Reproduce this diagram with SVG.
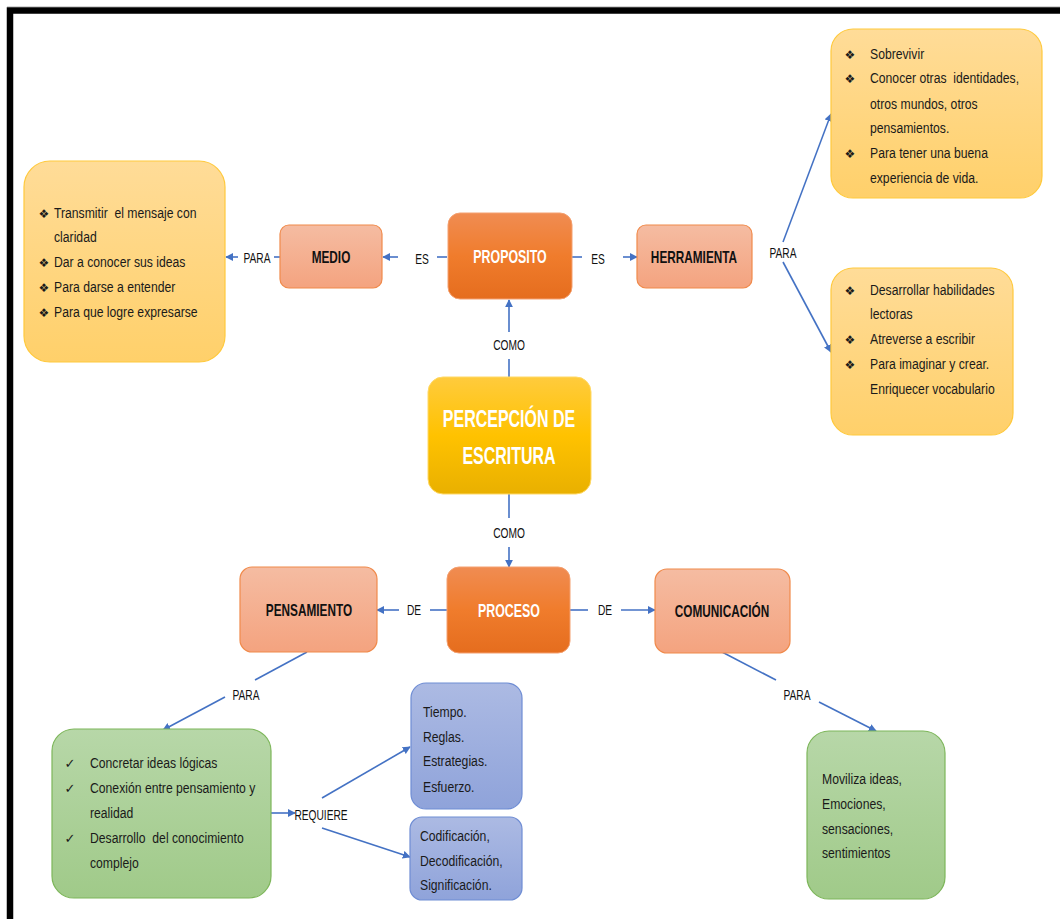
<svg xmlns="http://www.w3.org/2000/svg" width="1060" height="919" viewBox="0 0 1060 919">
<style>
.conn{stroke:#4472C4;stroke-width:1.6;fill:none}
.arr{marker-end:url(#ah)}
.t{font-family:"Liberation Sans",Arial,sans-serif;font-size:12.2px;fill:#1a1a1a}
.b{font-family:"DejaVu Sans",sans-serif;font-size:12px;fill:#1a1a1a;text-anchor:middle}
.c{font-family:"DejaVu Sans",sans-serif;font-size:13px;fill:#1a1a1a;text-anchor:middle}
.lbl{font-family:"Liberation Sans",Arial,sans-serif;font-size:10.2px;fill:#111;text-anchor:middle}
.nb{font-family:"Liberation Sans",Arial,sans-serif;font-weight:bold;font-size:11.8px;fill:#111;text-anchor:middle}
.nw{font-family:"Liberation Sans",Arial,sans-serif;font-weight:bold;font-size:12.4px;fill:#fff;text-anchor:middle}
.nc{font-family:"Liberation Sans",Arial,sans-serif;font-weight:bold;font-size:16px;fill:#fff;text-anchor:middle}
.yel{fill:url(#gY);stroke:#FFC93C;stroke-width:1.2}
.sal{fill:url(#gS);stroke:#F08A4B;stroke-width:1.2}
.org{fill:url(#gO);stroke:#F4A070;stroke-width:1}
.gold{fill:url(#gG);stroke:#FFD966;stroke-width:1}
.grn{fill:url(#gGr);stroke:#7DB65A;stroke-width:1.2}
.blu{fill:url(#gB);stroke:#6F8DD4;stroke-width:1.2}
</style>
<defs>
<marker id="ah" viewBox="0 0 10 10" refX="9" refY="5" markerWidth="5" markerHeight="5" orient="auto" markerUnits="strokeWidth">
<path d="M0,0 L10,5 L0,10 z" fill="#4472C4"/>
</marker>
<linearGradient id="gY" x1="0" y1="0" x2="0" y2="1"><stop offset="0" stop-color="#FFDC98"/><stop offset="1" stop-color="#FFD06A"/></linearGradient>
<linearGradient id="gS" x1="0" y1="0" x2="0" y2="1"><stop offset="0" stop-color="#F5BCA2"/><stop offset="1" stop-color="#F4A37F"/></linearGradient>
<linearGradient id="gO" x1="0" y1="0" x2="0" y2="1"><stop offset="0" stop-color="#F08C52"/><stop offset="0.5" stop-color="#F07C2C"/><stop offset="1" stop-color="#E56D1E"/></linearGradient>
<linearGradient id="gG" x1="0" y1="0" x2="0" y2="1"><stop offset="0" stop-color="#FFCB3D"/><stop offset="0.5" stop-color="#FFC200"/><stop offset="1" stop-color="#E9B000"/></linearGradient>
<linearGradient id="gGr" x1="0" y1="0" x2="0" y2="1"><stop offset="0" stop-color="#B7D7A8"/><stop offset="1" stop-color="#A0CA89"/></linearGradient>
<linearGradient id="gB" x1="0" y1="0" x2="0" y2="1"><stop offset="0" stop-color="#ACBAE3"/><stop offset="1" stop-color="#8FA3DA"/></linearGradient>
</defs>
<rect width="1060" height="919" fill="#fff"/>
<g id="frame">
<line x1="7" y1="6.5" x2="1060" y2="6.5" stroke="#d4d4d4" stroke-width="1"/>
<path d="M10,919 V10.5 H1060" fill="none" stroke="#000" stroke-width="6.5"/>
</g>

<g id="connectors">
<path class="conn" d="M447,257 H437"/>
<path class="conn arr" d="M398,257 H383"/>
<path class="conn" d="M280,257 H274"/>
<path class="conn arr" d="M238,257 H226"/>
<path class="conn" d="M572,257 H582"/>
<path class="conn arr" d="M623,257 H637"/>
<path class="conn arr" d="M783,242 L831,114"/>
<path class="conn arr" d="M783,262 L831,352"/>
<path class="conn" d="M509,377 V359"/>
<path class="conn arr" d="M509,332 V300"/>
<path class="conn" d="M509,494 V518"/>
<path class="conn arr" d="M509,547 V567"/>
<path class="conn" d="M447,610 H430"/>
<path class="conn arr" d="M399,610 H377"/>
<path class="conn" d="M570,610 H588"/>
<path class="conn arr" d="M621,610 H655"/>
<path class="conn" d="M307,652 L255,680"/>
<path class="conn arr" d="M225,697 L163,730"/>
<path class="conn" d="M722,652 L776,680"/>
<path class="conn arr" d="M819,702 L876,731"/>
<path class="conn arr" d="M271,813 H295"/>
<path class="conn arr" d="M322,798 L410,747"/>
<path class="conn arr" d="M322,828 L410,857"/>
<text class="lbl" transform="translate(422,264) scale(1,1.35)">ES</text>
<text class="lbl" transform="translate(257,263) scale(1,1.35)">PARA</text>
<text class="lbl" transform="translate(598,264) scale(1,1.35)">ES</text>
<text class="lbl" transform="translate(783,258) scale(1,1.35)">PARA</text>
<text class="lbl" transform="translate(509,350) scale(1,1.35)">COMO</text>
<text class="lbl" transform="translate(509,538) scale(1,1.35)">COMO</text>
<text class="lbl" transform="translate(414,615) scale(1,1.35)">DE</text>
<text class="lbl" transform="translate(605,615) scale(1,1.35)">DE</text>
<text class="lbl" transform="translate(246,700) scale(1,1.35)">PARA</text>
<text class="lbl" transform="translate(797,700) scale(1,1.35)">PARA</text>
<text class="lbl" transform="translate(321,820) scale(1,1.35)">REQUIERE</text>
</g>

<g id="n-medio-lista">
<rect class="yel" x="24" y="161" width="201" height="201" rx="26"/>
<text class="b" x="44" y="218">❖</text>
<text class="t" xml:space="preserve" transform="translate(54,218) scale(1,1.25)">Transmitir  el mensaje con</text>
<text class="t" transform="translate(54,242) scale(1,1.25)">claridad</text>
<text class="b" x="44" y="267">❖</text>
<text class="t" transform="translate(54,267) scale(1,1.25)">Dar a conocer sus ideas</text>
<text class="b" x="44" y="292">❖</text>
<text class="t" transform="translate(54,292) scale(1,1.25)">Para darse a entender</text>
<text class="b" x="44" y="317">❖</text>
<text class="t" transform="translate(54,317) scale(1,1.25)">Para que logre expresarse</text>
</g>

<g id="n-medio">
<rect class="sal" x="280" y="225" width="102" height="63" rx="9"/>
<text class="nb" transform="translate(331,263) scale(1,1.45)">MEDIO</text>
</g>

<g id="n-proposito">
<rect class="org" x="448" y="213" width="124" height="86" rx="12"/>
<text class="nw" transform="translate(510,263) scale(1,1.5)">PROPOSITO</text>
</g>

<g id="n-herramienta">
<rect class="sal" x="637" y="225" width="115" height="63" rx="9"/>
<text class="nb" transform="translate(694,263) scale(1,1.45)">HERRAMIENTA</text>
</g>

<g id="n-herramienta-lista1">
<rect class="yel" x="831" y="29" width="211" height="169" rx="22"/>
<text class="b" x="850" y="59">❖</text>
<text class="t" transform="translate(870,59) scale(1,1.25)">Sobrevivir</text>
<text class="b" x="850" y="83">❖</text>
<text class="t" xml:space="preserve" transform="translate(870,83) scale(1,1.25)">Conocer otras  identidades,</text>
<text class="t" transform="translate(870,109) scale(1,1.25)">otros mundos, otros</text>
<text class="t" transform="translate(870,133) scale(1,1.25)">pensamientos.</text>
<text class="b" x="850" y="158">❖</text>
<text class="t" transform="translate(870,158) scale(1,1.25)">Para tener una buena</text>
<text class="t" transform="translate(870,183) scale(1,1.25)">experiencia de vida.</text>
</g>

<g id="n-herramienta-lista2">
<rect class="yel" x="831" y="268" width="182" height="167" rx="22"/>
<text class="b" x="850" y="295">❖</text>
<text class="t" transform="translate(870,295) scale(1,1.25)">Desarrollar habilidades</text>
<text class="t" transform="translate(870,319) scale(1,1.25)">lectoras</text>
<text class="b" x="850" y="344">❖</text>
<text class="t" transform="translate(870,344) scale(1,1.25)">Atreverse a escribir</text>
<text class="b" x="850" y="369">❖</text>
<text class="t" transform="translate(870,369) scale(1,1.25)">Para imaginar y crear.</text>
<text class="t" transform="translate(870,394) scale(1,1.25)">Enriquecer vocabulario</text>
</g>

<g id="n-percepcion">
<rect class="gold" x="428" y="377" width="163" height="117" rx="15"/>
<text class="nc" transform="translate(509,427) scale(1,1.48)">PERCEPCIÓN DE</text>
<text class="nc" transform="translate(509,464) scale(1,1.48)">ESCRITURA</text>
</g>

<g id="n-proceso">
<rect class="org" x="447" y="567" width="123" height="86" rx="12"/>
<text class="nw" transform="translate(509,617) scale(1,1.5)">PROCESO</text>
</g>

<g id="n-pensamiento">
<rect class="sal" x="240" y="567" width="137" height="85" rx="12"/>
<text class="nb" transform="translate(309,616) scale(1,1.45)">PENSAMIENTO</text>
</g>

<g id="n-comunicacion">
<rect class="sal" x="655" y="569" width="135" height="84" rx="12"/>
<text class="nb" transform="translate(722,617) scale(1,1.45)">COMUNICACIÓN</text>
</g>

<g id="n-pensamiento-lista">
<rect class="grn" x="52" y="729" width="219" height="169" rx="22"/>
<text class="c" x="70" y="768">✓</text>
<text class="t" transform="translate(90,768) scale(1,1.25)">Concretar ideas lógicas</text>
<text class="c" x="70" y="793">✓</text>
<text class="t" transform="translate(90,793) scale(1,1.25)">Conexión entre pensamiento y</text>
<text class="t" transform="translate(90,818) scale(1,1.25)">realidad</text>
<text class="c" x="70" y="843">✓</text>
<text class="t" xml:space="preserve" transform="translate(90,843) scale(1,1.25)">Desarrollo  del conocimiento</text>
<text class="t" transform="translate(90,868) scale(1,1.25)">complejo</text>
</g>

<g id="n-requiere1">
<rect class="blu" x="411" y="683" width="111" height="126" rx="15"/>
<text class="t" transform="translate(423,717) scale(1,1.25)">Tiempo.</text>
<text class="t" transform="translate(423,742) scale(1,1.25)">Reglas.</text>
<text class="t" transform="translate(423,766) scale(1,1.25)">Estrategias.</text>
<text class="t" transform="translate(423,792) scale(1,1.25)">Esfuerzo.</text>
</g>

<g id="n-requiere2">
<rect class="blu" x="410" y="817" width="112" height="83" rx="12"/>
<text class="t" transform="translate(420,841) scale(1,1.25)">Codificación,</text>
<text class="t" transform="translate(420,866) scale(1,1.25)">Decodificación,</text>
<text class="t" transform="translate(420,890) scale(1,1.25)">Significación.</text>
</g>

<g id="n-comunicacion-lista">
<rect class="grn" x="807" y="731" width="138" height="168" rx="22"/>
<text class="t" transform="translate(822,784) scale(1,1.25)">Moviliza ideas,</text>
<text class="t" transform="translate(822,809) scale(1,1.25)">Emociones,</text>
<text class="t" transform="translate(822,834) scale(1,1.25)">sensaciones,</text>
<text class="t" transform="translate(822,858) scale(1,1.25)">sentimientos</text>
</g>
</svg>
